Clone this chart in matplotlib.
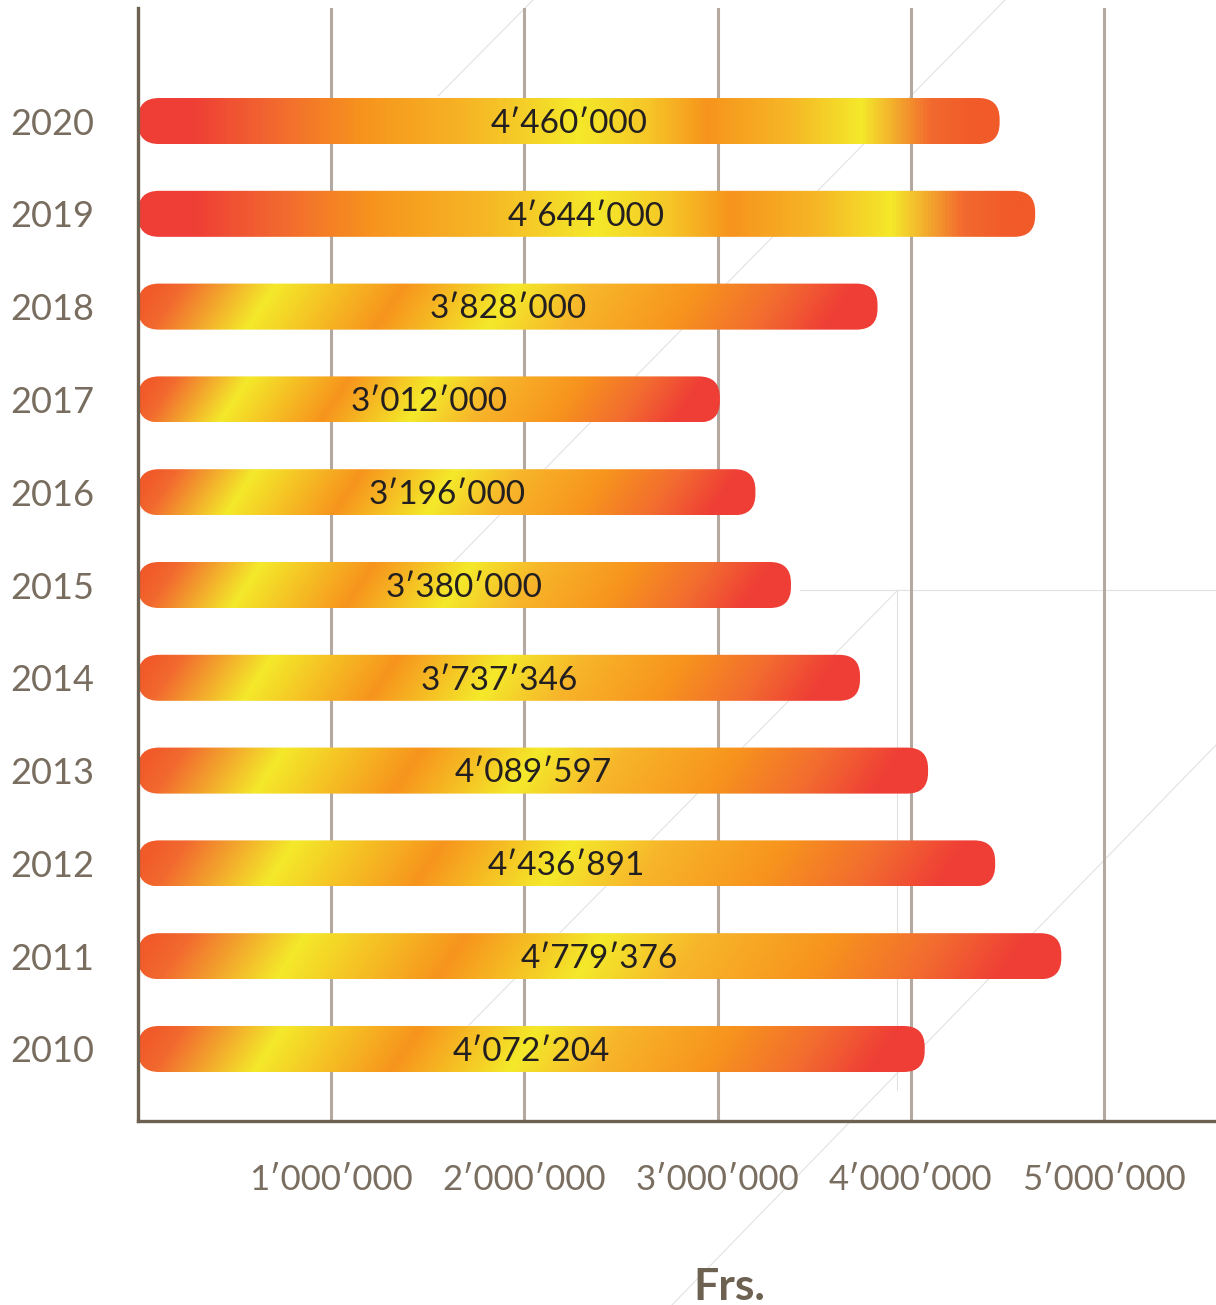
import numpy as np
import matplotlib
matplotlib.use("Agg")
import matplotlib.pyplot as plt
from matplotlib.colors import LinearSegmentedColormap
from matplotlib.patches import FancyBboxPatch
from matplotlib.lines import Line2D

years = [2010, 2011, 2012, 2013, 2014, 2015, 2016, 2017, 2018, 2019, 2020]
values = [4072204, 4779376, 4436891, 4089597, 3737346, 3380000, 3196000, 3012000, 3828000, 4644000, 4460000]
labels = ["4′072′204", "4′779′376", "4′436′891", "4′089′597", "3′737′346", "3′380′000",
          "3′196′000", "3′012′000", "3′828′000", "4′644′000", "4′460′000"]
xticks = [1000000, 2000000, 3000000, 4000000, 5000000]
xticklabels = ["1′000′000", "2′000′000", "3′000′000", "4′000′000", "5′000′000"]

W, H = 1216, 1305
fig = plt.figure(figsize=(W / 100, H / 100), dpi=100)
ax = fig.add_axes([138 / W, 184 / H, 1 - 138 / W, 1 - 8 / H - 184 / H])
ax.set_facecolor("none")
ax.set_zorder(1)
ax.set_xlim(0, 5.58e6)
ax.set_ylim(-0.776, 11.218)
ax.set_autoscale_on(False)

# colour ramps
horiz = LinearSegmentedColormap.from_list("h", [
    (0, "#ef3e36"), (0.06, "#ef3e36"), (0.16, "#f26a2f"), (0.26, "#f7941d"),
    (0.39, "#f6b826"), (0.51, "#f4e92a"), (0.59, "#f6c727"), (0.66, "#f7941d"),
    (0.76, "#f6b826"), (0.84, "#f4e92a"), (0.92, "#f26a2f"), (0.97, "#f15a29"),
    (1, "#f15a29")])
diag = LinearSegmentedColormap.from_list("d", [
    (0, "#f15a29"), (0.04, "#f26a2f"), (0.165, "#f4e92a"), (0.34, "#f7941d"),
    (0.49, "#f4e92a"), (0.6, "#f7b52a"), (0.74, "#f7941d"), (0.86, "#f26a30"),
    (0.95, "#ef3e36"), (1, "#ef3e36")])

# pixel size of data units, for rounded ends and gradients
p0 = ax.transData.transform((0, 0))
p1 = ax.transData.transform((1e6, 1))
xpx = (p1[0] - p0[0]) / 1e6
ypx = p1[1] - p0[1]
aspect = (1 / ypx) / (1 / xpx)
bh = 0.496
r = 21 / xpx

for i, (yr, v, lab) in enumerate(zip(years, values, labels)):
    L = int(v * xpx)
    ny = int(bh * ypx)
    xx, yy = np.meshgrid(np.arange(L), np.arange(ny))
    if yr >= 2019:
        t = xx / L
        cm = horiz
    else:
        t = (xx - 0.67 * (yy - ny / 2)) / L
        cm = diag
    img = cm(np.clip(t, 0, 1))
    box = FancyBboxPatch((0, i - bh / 2), v, bh,
                         boxstyle="round,pad=0,rounding_size=%f" % r,
                         mutation_aspect=aspect, transform=ax.transData,
                         facecolor="none", edgecolor="none")
    ax.add_patch(box)
    im = ax.imshow(img, extent=(0, v, i - bh / 2, i + bh / 2), origin="lower",
                   aspect="auto", interpolation="bilinear", zorder=3)
    im.set_clip_path(box)
    ax.text(v / 2, i - 0.03, lab, ha="center", va="center", fontsize=24,
            color="#231f20", family=["Lato", "DejaVu Sans"], zorder=4)

ax.set_xlim(0, 5.58e6)
ax.set_ylim(-0.776, 11.218)

ax.set_xticks(xticks)
ax.set_xticklabels(xticklabels, family=["Lato", "DejaVu Sans"], fontsize=25, color="#7a6e60")
ax.set_yticks(range(len(years)))
ax.set_yticklabels([str(y) for y in years], family=["Lato", "DejaVu Sans"], fontsize=26,
                   color="#786d5f", ha="center")
ax.tick_params(axis="x", length=0, pad=31)
ax.tick_params(axis="y", length=0, pad=62)
ax.grid(True, axis="x", color="#b3a9a1", lw=2.2, zorder=1)
ax.set_axisbelow(True)

for s in ["top", "right"]:
    ax.spines[s].set_visible(False)
for s in ["left", "bottom"]:
    ax.spines[s].set_color("#6d6151")
    ax.spines[s].set_linewidth(2.4)
    ax.spines[s].set_zorder(5)

fig.text(729 / W, 1 - 1287 / H, "Frs.", ha="center", va="center", fontsize=32,
         fontweight="bold", color="#6d6151", family=["Lato", "DejaVu Sans"])

# faint background lines of the layout
deco = [((533, 0), (438, 96)), ((1005, 0), (430, 586)), ((898, 590), (469, 1025)),
        ((1216, 745), (672, 1305)), ((800, 590), (1216, 590)), ((897, 590), (897, 1090))]
for (xa, ya), (xb, yb) in deco:
    fig.add_artist(Line2D([xa / W, xb / W], [1 - ya / H, 1 - yb / H],
                          transform=fig.transFigure, color="#e2e2e2", lw=0.8, zorder=0))

plt.savefig("out.png", dpi=100)
